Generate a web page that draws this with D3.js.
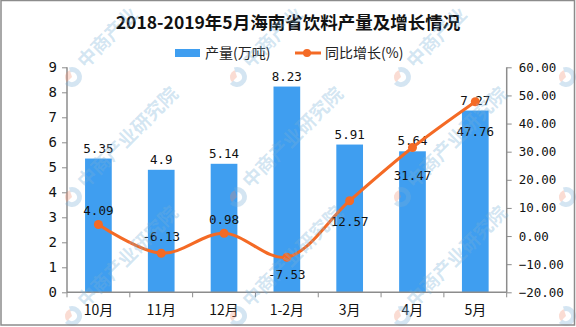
<!DOCTYPE html>
<html><head><meta charset="utf-8">
<script src="https://cdn.jsdelivr.net/npm/d3@7"></script>
<style>html,body{margin:0;padding:0;background:#fff;}svg{display:block;}</style>
</head><body>
<svg id="chart" width="576" height="327"></svg>
<script>
const categories = ["10月","11月","12月","1-2月","3月","4月","5月"];
const output = [5.35, 4.9, 5.14, 8.23, 5.91, 5.64, 7.27];
const growth = [4.09, -6.13, 0.98, -7.53, 12.57, 31.47, 47.76];
const leftTicks = [0,1,2,3,4,5,6,7,8,9];
const rightTicks = [-20,-10,0,10,20,30,40,50,60];
const titleText = "2018-2019年5月海南省饮料产量及增长情况";
const legendBar = "产量(万吨)";
const legendLine = "同比增长(%)";
const watermarkText = "中商产业研究院";

const svg = d3.select("#chart");
const W = 576, H = 327;
const m = {left: 67, right: 506.7, top: 67.3, bottom: 292.3};
const barColor = "#3f9ef0", lineColor = "#f46a25", axisColor = "#8c8c8c";
const numFont = "'DejaVu Sans Mono', monospace";
const cjkFont = "'Noto Sans CJK SC', sans-serif";

svg.append("rect").attr("width", W).attr("height", H).attr("fill", "#fff");

const x = d3.scaleBand().domain(categories).range([m.left, m.right]).paddingInner(0.575).paddingOuter(0.2875);
const yL = d3.scaleLinear().domain([0, 9]).range([m.bottom, m.top]);
const yR = d3.scaleLinear().domain([-20, 60]).range([m.bottom, m.top]);

// Title
svg.append("text").attr("x", 288).attr("y", 29).attr("text-anchor", "middle")
  .attr("font-family", cjkFont).attr("font-weight", "bold").attr("font-size", 17.5)
  .attr("fill", "#111").text(titleText);

// Legend
svg.append("rect").attr("x", 175).attr("y", 49).attr("width", 25).attr("height", 8).attr("fill", barColor);
svg.append("text").attr("x", 205).attr("y", 58).attr("font-family", cjkFont).attr("font-size", 14).attr("fill", "#222").text(legendBar);
svg.append("line").attr("x1", 295).attr("x2", 321).attr("y1", 53).attr("y2", 53).attr("stroke", lineColor).attr("stroke-width", 3);
svg.append("circle").attr("cx", 307).attr("cy", 53).attr("r", 4).attr("fill", lineColor);
svg.append("text").attr("x", 325).attr("y", 58).attr("font-family", cjkFont).attr("font-size", 14).attr("fill", "#222").text(legendLine);

// Bars
svg.append("g").selectAll("rect").data(output).join("rect")
  .attr("x", (d, i) => x(categories[i])).attr("width", x.bandwidth())
  .attr("y", d => yL(d)).attr("height", d => yL(0) - yL(d)).attr("fill", barColor);

// Bar labels
svg.append("g").selectAll("text").data(output).join("text")
  .attr("x", (d, i) => x(categories[i]) + x.bandwidth() / 2).attr("y", d => yL(d) - 6)
  .attr("text-anchor", "middle").attr("font-family", numFont).attr("font-size", 12.5).attr("fill", "#111")
  .text(d => d);

// Axes
const axL = svg.append("g").attr("transform", `translate(${m.left},0)`)
  .call(d3.axisLeft(yL).tickValues(leftTicks).tickSize(5).tickPadding(5).tickFormat(d3.format("d")));
const axR = svg.append("g").attr("transform", `translate(${m.right},0)`)
  .call(d3.axisRight(yR).tickValues(rightTicks).tickSize(5).tickPadding(7).tickFormat(d3.format(".2f")));
const step = x.step();
const axB = svg.append("g").attr("transform", `translate(0,${m.bottom})`)
  .call(d3.axisBottom(x).tickSize(0).tickPadding(13));
svg.append("g").selectAll("line").data(d3.range(categories.length + 1)).join("line")
  .attr("x1", i => m.left + i * step).attr("x2", i => m.left + i * step)
  .attr("y1", m.bottom).attr("y2", m.bottom + 5).attr("stroke", axisColor);
[axL, axR, axB].forEach(g => {
  g.selectAll(".domain").attr("stroke", axisColor).attr("stroke-width", 1.5);
  g.selectAll(".tick line").attr("stroke", axisColor);
  g.selectAll("text").attr("fill", "#111").attr("font-size", 14);
});
axL.selectAll("text").attr("font-family", numFont).attr("font-size", 14);
axR.selectAll("text").attr("font-family", numFont).attr("font-size", 12.5);
axB.selectAll("text").attr("font-family", cjkFont).attr("font-size", 14);
axL.select(".domain").attr("d", `M-0,${m.top}H0V${m.bottom}H-0`);
axR.select(".domain").attr("d", `M0,${m.top}H0V${m.bottom}H0`);
axB.select(".domain").attr("d", `M${m.left},0H${m.right}`);

// Line
const cx = i => x(categories[i]) + x.bandwidth() / 2;
const line = d3.line().x((d, i) => cx(i)).y(d => yR(d)).curve(d3.curveCatmullRom.alpha(0.5));
svg.append("path").datum(growth).attr("d", line).attr("fill", "none")
  .attr("stroke", lineColor).attr("stroke-width", 3);
svg.append("g").selectAll("circle").data(growth).join("circle")
  .attr("cx", (d, i) => cx(i)).attr("cy", d => yR(d)).attr("r", 4.5).attr("fill", lineColor);
const lineLabelDy = [-10, -12, -9, 22, 25, 32, 34];
svg.append("g").selectAll("text").data(growth).join("text")
  .attr("x", (d, i) => cx(i)).attr("y", (d, i) => yR(d) + lineLabelDy[i])
  .attr("text-anchor", "middle").attr("font-family", numFont).attr("font-size", 12.5).attr("fill", "#111")
  .text(d => d.toFixed(2));

// Watermarks: only the characters that lie fully inside the picture are drawn
const wm = svg.append("g").attr("pointer-events", "none");
const cols = [-93, 72, 237, 401, 566], rows = [-43, 77, 197, 316];
const fs = 19, u0 = 15, s2 = Math.SQRT1_2;
const inside = (c, r, u, v) => {
  const px = c + (u + v) * s2, py = r + (v - u) * s2;
  return px >= 3 && px <= 572 && py >= 3 && py <= 323;
};
const chars = Array.from(watermarkText);
cols.forEach(c => rows.forEach(r => {
  const g = wm.append("g").attr("transform", `translate(${c},${r}) rotate(-45)`);
  g.append("path").attr("d", d3.arc().innerRadius(5).outerRadius(10).startAngle(Math.PI * 0.15).endAngle(Math.PI * 1.5)())
    .attr("fill", "rgba(120,175,215,0.32)");
  g.append("path").attr("d", d3.arc().innerRadius(0).outerRadius(7).startAngle(-Math.PI * 0.5).endAngle(Math.PI * 0.15)())
    .attr("fill", "rgba(240,140,110,0.3)");
  const keep = chars.map((ch, k) => {
    const a = u0 + fs * k, b = a + fs;
    return [[a, -13], [b, -13], [a, 6], [b, 6]].every(([u, v]) => inside(c, r, u, v));
  });
  const first = keep.indexOf(true), last = keep.lastIndexOf(true);
  if (first >= 0) {
    g.append("text").attr("x", u0 + fs * first).attr("y", 4).attr("font-family", cjkFont).attr("font-weight", "bold")
      .attr("font-size", fs).attr("fill", "rgba(120,175,215,0.32)").text(chars.slice(first, last + 1).join(""));
  }
}));

// Border
svg.append("rect").attr("x", 1).attr("y", 0.5).attr("width", 573.5).attr("height", 324.5)
  .attr("fill", "none").attr("stroke", "#8c8c8c").attr("stroke-width", 1.5);
</script>
</body></html>
